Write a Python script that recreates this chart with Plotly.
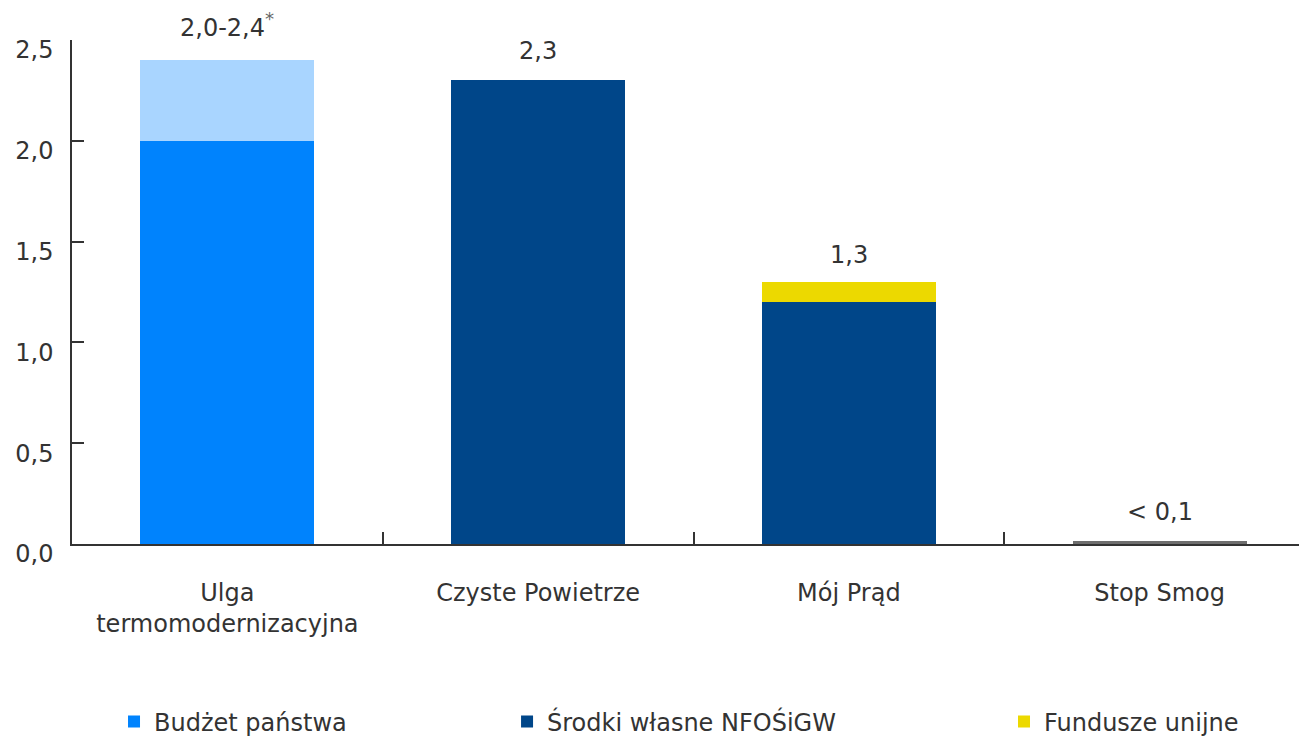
import plotly.graph_objects as go

categories = ["Ulga<br>termomodernizacyjna", "Czyste Powietrze", "Mój Prąd", "Stop Smog"]
budzet_panstwa = [2.0, None, None, None]
budzet_zakres = [0.4, None, None, None]
srodki_nfosigw = [None, 2.3, 1.2, None]
fundusze_unijne = [None, None, 0.1, None]
stop_smog = [None, None, None, 0.015]
totals = [2.4, 2.3, 1.3, 0.015]
value_labels = ["2,0-2,4<span style='font-size:26px;color:#666666'><sup>*</sup></span>",
                "2,3", "1,3", "< 0,1"]
y_ticks = [0, 0.5, 1.0, 1.5, 2.0, 2.5]
y_tick_text = ["0,0", "0,5", "1,0", "1,5", "2,0", "2,5"]

FONT = "DejaVu Sans"
FS = 24
TXT = "#333333"
label_yshift = [35, 29, 27, 29]

fig = go.Figure()
fig.add_trace(go.Bar(x=categories, y=budzet_panstwa, name="Budżet państwa",
                     marker=dict(color="#0083FD", line=dict(width=0)), legend="legend"))
fig.add_trace(go.Bar(x=categories, y=srodki_nfosigw, name="Środki własne NFOŚiGW",
                     marker=dict(color="#004689", line=dict(width=0)), legend="legend2"))
fig.add_trace(go.Bar(x=categories, y=fundusze_unijne, name="Fundusze unijne",
                     marker=dict(color="#ECD900", line=dict(width=0)), legend="legend3"))
fig.add_trace(go.Bar(x=categories, y=budzet_zakres, name="Budżet państwa (zakres)",
                     marker=dict(color="#A9D5FF", line=dict(width=0)), showlegend=False))
fig.add_trace(go.Bar(x=categories, y=stop_smog, name="Stop Smog",
                     marker=dict(color="#6E6E6E", line=dict(width=0)), showlegend=False))

for c, t, lab, ys in zip(categories, totals, value_labels, label_yshift):
    fig.add_annotation(x=c, y=t, text=lab, showarrow=False, yanchor="middle", yshift=ys,
                       font=dict(family=FONT, size=FS, color=TXT))

legend_common = dict(orientation="h", yanchor="middle", y=-0.353, xanchor="left",
                     font=dict(family=FONT, size=FS, color=TXT), bgcolor="rgba(0,0,0,0)")

fig.update_layout(
    barmode="stack",
    bargap=0.44,
    width=1307, height=740,
    margin=dict(l=64, r=0, t=32, b=204, autoexpand=False),
    plot_bgcolor="white", paper_bgcolor="white",
    font=dict(family=FONT, size=FS, color=TXT),
    legend=dict(x=0.0338, **legend_common),
    legend2=dict(x=0.350, **legend_common),
    legend3=dict(x=0.7498, **legend_common),
    xaxis=dict(showline=True, linecolor="#333333", linewidth=1.5, ticks="inside",
               tickson="boundaries", ticklen=12, tickcolor="#333333", tickwidth=1.5,
               ticklabelstandoff=26, showgrid=False, automargin=False,
               tickfont=dict(family=FONT, size=FS, color=TXT)),
    yaxis=dict(range=[0, 2.5], tickvals=y_ticks, ticktext=y_tick_text, showline=True,
               linecolor="#333333", linewidth=1.5, ticks="inside", ticklen=12,
               tickcolor="#333333", tickwidth=1.5, showgrid=False, zeroline=False,
               ticklabelstandoff=12, ticklabelshift=10, automargin=False,
               tickfont=dict(family=FONT, size=FS, color=TXT)),
)

fig.write_html("out.html")
